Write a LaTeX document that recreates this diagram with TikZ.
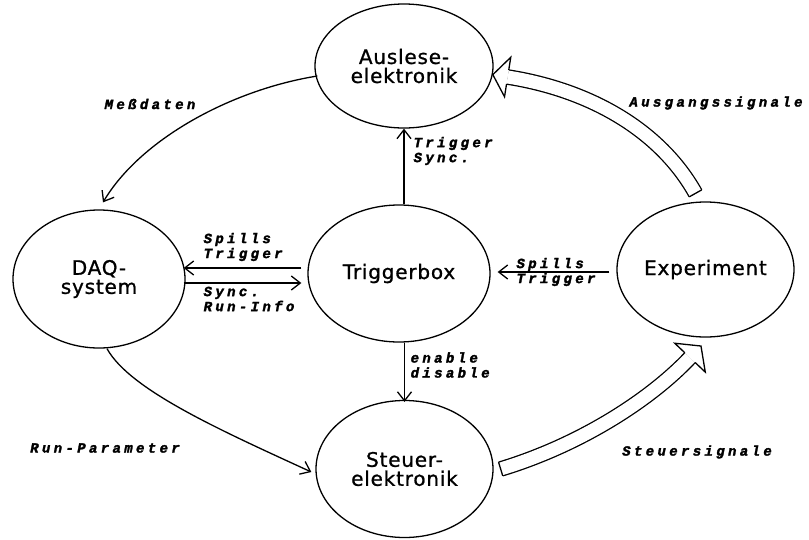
\documentclass[tikz,border=0pt]{standalone}
\usepackage{fontspec}
\usetikzlibrary{shapes.geometric,arrows.meta,calc}
\newfontfamily\nodefont[LetterSpace=4,FakeBold=1]{DejaVu Sans}
\newfontfamily\lblfont[LetterSpace=24,FakeBold=2]{Liberation Mono}
\begin{document}
\begin{tikzpicture}[x=1pt,y=-1pt,line width=1.3pt,
  state/.style={ellipse,draw,inner sep=0pt,align=center,font=\nodefont\fontsize{20}{19}\selectfont},
  lbl/.style={inner sep=0pt,align=left,font=\lblfont\bfseries\itshape\fontsize{14}{15}\selectfont},
  arr/.style={-{Straight Barb[length=9pt,width=14pt]}},
  hollow/.style={double=white,double distance=13pt,line width=1.3pt}]
\useasboundingbox (0,0) rectangle (809,539);
% states
\node[state,minimum width=178pt,minimum height=124pt] (aus) at (404,66) {Auslese-\\elektronik};
\node[state,minimum width=182pt,minimum height=137pt] (trig) at (399,273.5) {Triggerbox};
\node[state,minimum width=177pt,minimum height=137pt] (steu) at (404.5,469) {Steuer-\\elektronik};
\node[state,minimum width=172pt,minimum height=138pt] (daq) at (99,279) {DAQ-\\system};
\node[state,minimum width=177pt,minimum height=135pt] (exp) at (705.5,269.5) {Experiment};
% thin arrows
\draw[arr] (trig.north -| aus.south) -- (aus.south);
\draw[arr] (trig.south -| steu.north) -- ([yshift=-2]steu.north);
\draw[arr] ([shift={(-6,-5.5)}]trig.west) -- ([shift={(-2,-11)}]daq.east);
\draw[arr] ([shift={(-2,4)}]daq.east) -- ([shift={(-6,9.5)}]trig.west);
\draw[arr] ([shift={(-7,2.5)}]exp.west) -- ([shift={(7,-1.5)}]trig.east);
\draw[arr] ([shift={(3,10)}]aus.west) .. controls (230,90) and (140,140) .. ([shift={(4,-7)}]daq.north);
\draw[arr] ([shift={(8,0)}]daq.south) .. controls (130,390) and (220,430) .. ([shift={(-4,3)}]steu.west);
% hollow arrow: Ausgangssignale
\coordinate (A0) at ([shift={(-10,-8)}]exp.north);
\coordinate (A3) at ([shift={(14,11)}]aus.east);
\coordinate (A1) at (660,130);
\coordinate (A2) at (590,90);
\draw[hollow] (A0) .. controls (A1) and (A2) .. (A3);
\draw ($(A0)!7.1pt!90:(A1)$) -- ($(A0)!7.1pt!-90:(A1)$);
\filldraw[fill=white] ($(A3)!7.1pt!90:(A2)$) -- ($(A3)!20pt!90:(A2)$) -- ($(A3)!-15pt!(A2)$) -- ($(A3)!20pt!-90:(A2)$) -- ($(A3)!7.1pt!-90:(A2)$);
% hollow arrow: Steuersignale
\coordinate (S0) at ([shift={(7,0)}]steu.east);
\coordinate (S3) at ([shift={(-15.5,20)}]exp.south);
\coordinate (S1) at (580,445);
\coordinate (S2) at (650,400);
\draw[hollow] (S0) .. controls (S1) and (S2) .. (S3);
\draw ($(S0)!7.1pt!90:(S1)$) -- ($(S0)!7.1pt!-90:(S1)$);
\filldraw[fill=white] ($(S3)!7.1pt!90:(S2)$) -- ($(S3)!21pt!90:(S2)$) -- ($(S3)!-16pt!(S2)$) -- ($(S3)!21pt!-90:(S2)$) -- ($(S3)!7.1pt!-90:(S2)$);
% labels
\node[lbl] (mess) at (150,104) {Meßdaten};
\node[lbl] (runp) at (105,448) {Run-Parameter};
\node[lbl] (ausg) at (716,103) {Ausgangssignale};
\node[lbl] (steus) at (697,452) {Steuersignale};
\node[lbl,anchor=west] (trsy) at (413,151) {Trigger\\Sync.};
\node[lbl,anchor=west] (enab) at (410,365) {enable\\disable};
\node[lbl,anchor=west] (spl) at (203,247) {Spills\\Trigger};
\node[lbl,anchor=west] (syr) at (203,299) {Sync.\\Run-Info};
\node[lbl] (spr) at (556,272) {Spills\\Trigger};
\end{tikzpicture}
\end{document}
